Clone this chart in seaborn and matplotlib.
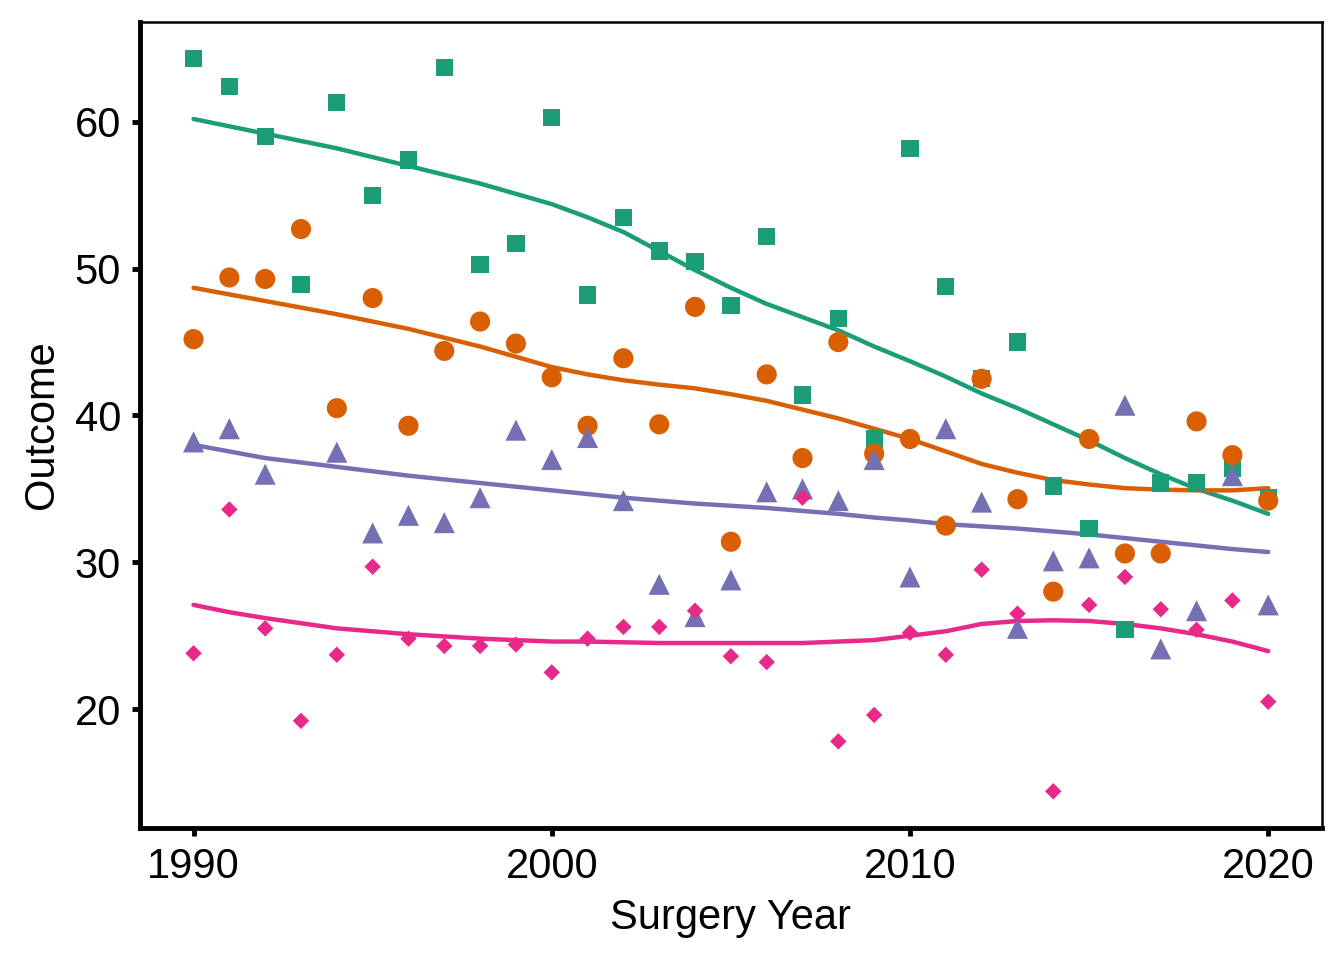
import numpy as np
import pandas as pd
import matplotlib
matplotlib.use('Agg')
import matplotlib.pyplot as plt
import seaborn as sns

# values
years = list(range(1990, 2021))
group_a = [64.3, 62.4, 59.0, 48.9, 61.3, 55.0, 57.4, 63.7, 50.3, 51.7,
           60.3, 48.2, 53.5, 51.2, 50.5, 47.5, 52.2, 41.4, 46.6, 38.4,
           58.2, 48.8, 42.5, 45.0, 35.2, 32.3, 25.4, 35.4, 35.4, 36.4, 34.4]
group_b = [45.2, 49.4, 49.3, 52.7, 40.5, 48.0, 39.3, 44.4, 46.4, 44.9,
           42.6, 39.3, 43.9, 39.4, 47.4, 31.4, 42.8, 37.1, 45.0, 37.4,
           38.4, 32.5, 42.5, 34.3, 28.0, 38.4, 30.6, 30.6, 39.6, 37.3, 34.2]
group_c = [38.2, 39.1, 36.0, np.nan, 37.5, 32.0, 33.2, 32.7, 34.4, 39.0,
           37.0, 38.5, 34.2, 28.5, 26.3, 28.8, 34.8, 35.0, 34.2, 37.0,
           29.0, 39.1, 34.1, 25.5, 30.1, 30.3, 40.7, 24.1, 26.7, 35.9, 27.1]
group_d = [23.8, 33.6, 25.5, 19.2, 23.7, 29.7, 24.8, 24.3, 24.3, 24.4,
           22.5, 24.8, 25.6, 25.6, 26.7, 23.6, 23.2, 34.4, 17.8, 19.6,
           25.2, 23.7, 29.5, 26.5, 14.4, 27.1, 29.0, 26.8, 25.4, 27.4, 20.5]

# smoothed trend lines at each year
smooth_a = [60.2, 59.7, 59.2, 58.7, 58.2, 57.6, 57.0, 56.4, 55.8, 55.1,
            54.4, 53.5, 52.5, 51.2, 49.9, 48.7, 47.6, 46.7, 45.8, 44.7,
            43.7, 42.65, 41.5, 40.5, 39.4, 38.3, 37.1, 36.0, 35.0, 34.2, 33.3]
smooth_b = [48.7, 48.25, 47.8, 47.35, 46.9, 46.4, 45.9, 45.3, 44.7, 44.0,
            43.3, 42.8, 42.4, 42.1, 41.85, 41.45, 41.0, 40.4, 39.8, 39.1,
            38.4, 37.55, 36.7, 36.1, 35.6, 35.3, 35.05, 34.95, 34.9, 34.9, 35.05]
smooth_c = [38.0, 37.55, 37.1, 36.8, 36.5, 36.2, 35.9, 35.65, 35.4, 35.15,
            34.9, 34.65, 34.4, 34.2, 34.0, 33.85, 33.7, 33.5, 33.3, 33.05,
            32.85, 32.6, 32.45, 32.3, 32.1, 31.9, 31.65, 31.4, 31.15, 30.9, 30.7]
smooth_d = [27.1, 26.6, 26.2, 25.85, 25.5, 25.3, 25.1, 24.95, 24.8, 24.7,
            24.6, 24.6, 24.55, 24.5, 24.5, 24.5, 24.5, 24.5, 24.6, 24.7,
            25.0, 25.3, 25.8, 26.0, 26.05, 26.0, 25.8, 25.5, 25.1, 24.6, 23.95]

groups = ['A', 'B', 'C', 'D']
colors = {'A': '#1B9E77', 'B': '#D95F02', 'C': '#7570B3', 'D': '#E7298A'}
markers = {'A': 's', 'B': 'o', 'C': '^', 'D': 'D'}
sizes = {'A': 155, 'B': 210, 'C': 230, 'D': 70}

frames = []
lines = []
for g, vals, sm in zip(groups, [group_a, group_b, group_c, group_d],
                       [smooth_a, smooth_b, smooth_c, smooth_d]):
    frames.append(pd.DataFrame({'year': years, 'value': vals, 'group': g}))
    lines.append(pd.DataFrame({'year': years, 'value': sm, 'group': g}))
df = pd.concat(frames).dropna().reset_index(drop=True)
df_smooth = pd.concat(lines).reset_index(drop=True)

sns.set_style('ticks')
plt.rcParams['font.family'] = ['Liberation Sans', 'DejaVu Sans']
plt.rcParams['text.color'] = 'black'
plt.rcParams['axes.labelcolor'] = 'black'
plt.rcParams['xtick.color'] = 'black'
plt.rcParams['ytick.color'] = 'black'

fig = plt.figure(figsize=(13.44, 9.6), dpi=100)
ax = fig.add_axes([0.104, 0.1375, 0.8796, 0.8395])

sns.lineplot(data=df_smooth, x='year', y='value', hue='group', palette=colors,
             linewidth=3.2, legend=False, ax=ax, zorder=1)
sns.scatterplot(data=df, x='year', y='value', hue='group', style='group', size='group',
                palette=colors, markers=markers, sizes=sizes, linewidth=0,
                legend=False, ax=ax, zorder=2)

ax.set_xlim(1988.5, 2021.5)
ax.set_ylim(11.9, 66.8)
ax.set_xticks([1990, 2000, 2010, 2020])
ax.set_yticks([20, 30, 40, 50, 60])
ax.set_xlabel('Surgery Year', fontsize=30, labelpad=8)
ax.set_ylabel('Outcome', fontsize=30, labelpad=9)
ax.tick_params(axis='both', labelsize=30, length=5.5, width=3.5, colors='black',
               pad=8, direction='out')

for side in ['top', 'right']:
    ax.spines[side].set_linewidth(1.8)
    ax.spines[side].set_color('black')
for side in ['left', 'bottom']:
    ax.spines[side].set_linewidth(3.5)
    ax.spines[side].set_color('black')

fig.savefig('out.png', dpi=100)
